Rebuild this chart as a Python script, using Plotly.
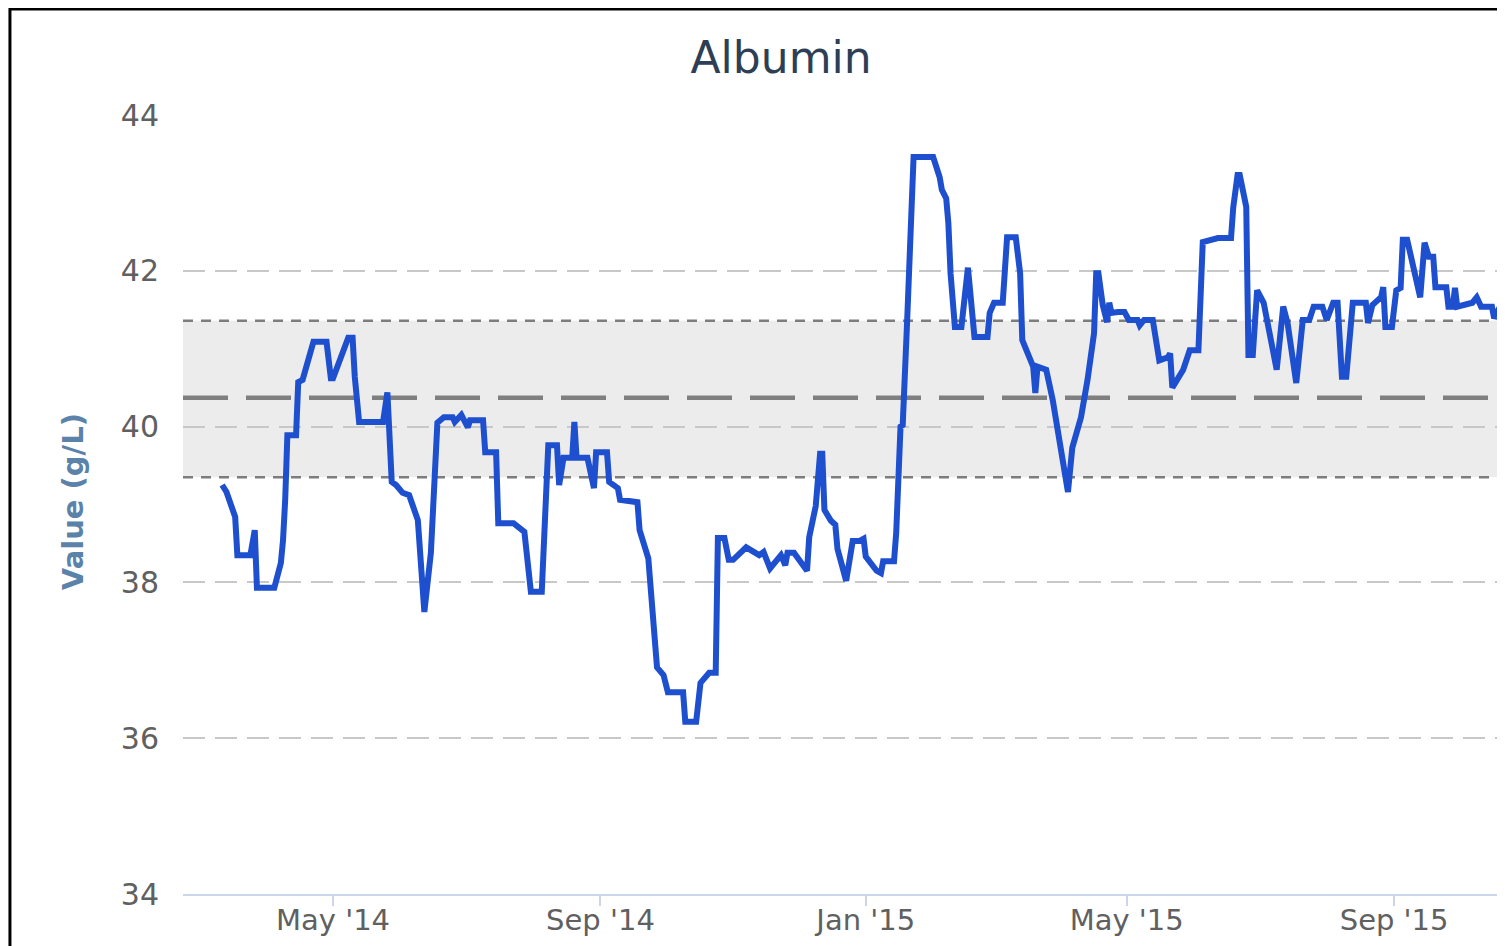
import plotly.graph_objects as go

# ---- data ----
dates = [
    "2014-03-11", "2014-03-13", "2014-03-17", "2014-03-18", "2014-03-24", "2014-03-26",
    "2014-03-27", "2014-04-04", "2014-04-07", "2014-04-08", "2014-04-09", "2014-04-10",
    "2014-04-14", "2014-04-15", "2014-04-17", "2014-04-22", "2014-04-28", "2014-04-30",
    "2014-05-01", "2014-05-08", "2014-05-10", "2014-05-11", "2014-05-13", "2014-05-24",
    "2014-05-26", "2014-05-28", "2014-05-30", "2014-06-02", "2014-06-05", "2014-06-09",
    "2014-06-12", "2014-06-15", "2014-06-18", "2014-06-21", "2014-06-25", "2014-06-26",
    "2014-06-29", "2014-07-02", "2014-07-03", "2014-07-09", "2014-07-10", "2014-07-15",
    "2014-07-16", "2014-07-23", "2014-07-28", "2014-07-31", "2014-08-05", "2014-08-08",
    "2014-08-12", "2014-08-13", "2014-08-15", "2014-08-19", "2014-08-20", "2014-08-21",
    "2014-08-26", "2014-08-29", "2014-08-30", "2014-09-04", "2014-09-05", "2014-09-09",
    "2014-09-10", "2014-09-18", "2014-09-19", "2014-09-23", "2014-09-27", "2014-09-30",
    "2014-10-02", "2014-10-09", "2014-10-10", "2014-10-15", "2014-10-17", "2014-10-21",
    "2014-10-24", "2014-10-25", "2014-10-28", "2014-10-30", "2014-11-01", "2014-11-06",
    "2014-11-07", "2014-11-13", "2014-11-15", "2014-11-18", "2014-11-21", "2014-11-23",
    "2014-11-25", "2014-11-26", "2014-11-29", "2014-12-03", "2014-12-05", "2014-12-06",
    "2014-12-09", "2014-12-11", "2014-12-12", "2014-12-13", "2014-12-16", "2014-12-18",
    "2014-12-19", "2014-12-23", "2014-12-26", "2014-12-29", "2014-12-31", "2015-01-01",
    "2015-01-06", "2015-01-08", "2015-01-09", "2015-01-14", "2015-01-15", "2015-01-17",
    "2015-01-18", "2015-01-20", "2015-01-22", "2015-01-23", "2015-02-01", "2015-02-03",
    "2015-02-04", "2015-02-05", "2015-02-07", "2015-02-08", "2015-02-09", "2015-02-11",
    "2015-02-14", "2015-02-17", "2015-02-20", "2015-02-26", "2015-02-27", "2015-03-01",
    "2015-03-05", "2015-03-07", "2015-03-11", "2015-03-13", "2015-03-14", "2015-03-19",
    "2015-03-20", "2015-03-21", "2015-03-25", "2015-03-28", "2015-04-01", "2015-04-04",
    "2015-04-06", "2015-04-10", "2015-04-13", "2015-04-16", "2015-04-17", "2015-04-18",
    "2015-04-20", "2015-04-22", "2015-04-23", "2015-04-24", "2015-04-27", "2015-04-30",
    "2015-05-02", "2015-05-06", "2015-05-07", "2015-05-09", "2015-05-13", "2015-05-16",
    "2015-05-20", "2015-05-21", "2015-05-22", "2015-05-25", "2015-05-27", "2015-05-30",
    "2015-06-03", "2015-06-05", "2015-06-12", "2015-06-18", "2015-06-19", "2015-06-21",
    "2015-06-22", "2015-06-25", "2015-06-26", "2015-06-28", "2015-06-30", "2015-07-03",
    "2015-07-09", "2015-07-12", "2015-07-14", "2015-07-18", "2015-07-21", "2015-07-24",
    "2015-07-26", "2015-07-30", "2015-08-01", "2015-08-04", "2015-08-06", "2015-08-08",
    "2015-08-10", "2015-08-13", "2015-08-19", "2015-08-20", "2015-08-22", "2015-08-26",
    "2015-08-27", "2015-08-28", "2015-08-31", "2015-09-02", "2015-09-04", "2015-09-05",
    "2015-09-07", "2015-09-13", "2015-09-15", "2015-09-17", "2015-09-19", "2015-09-20",
    "2015-09-25", "2015-09-26", "2015-09-28", "2015-09-29", "2015-09-30", "2015-10-07",
    "2015-10-09", "2015-10-11", "2015-10-16", "2015-10-17", "2015-10-21", "2015-10-23",
]
albumin = [
    39.25, 39.16, 38.84, 38.35, 38.35, 38.67,
    37.93, 37.93, 38.25, 38.54, 39.06, 39.89,
    39.89, 40.57, 40.60, 41.09, 41.09, 40.62,
    40.62, 41.14, 41.14, 40.64, 40.06, 40.06,
    40.44, 39.29, 39.25, 39.15, 39.12, 38.80,
    37.62, 38.38, 40.05, 40.12, 40.12, 40.06,
    40.15, 39.99, 40.08, 40.08, 39.67, 39.67,
    38.76, 38.76, 38.65, 37.88, 37.88, 39.76,
    39.76, 39.25, 39.60, 39.60, 40.06, 39.60,
    39.60, 39.21, 39.67, 39.67, 39.29, 39.21,
    39.06, 39.03, 38.67, 38.31, 36.91, 36.81,
    36.59, 36.59, 36.21, 36.21, 36.71, 36.84,
    36.84, 38.57, 38.57, 38.29, 38.29, 38.44,
    38.45, 38.35, 38.39, 38.18, 38.27, 38.35,
    38.22, 38.38, 38.38, 38.22, 38.15, 38.58,
    38.98, 39.65, 39.65, 38.93, 38.79, 38.74,
    38.43, 38.02, 38.53, 38.53, 38.56, 38.33,
    38.15, 38.12, 38.27, 38.27, 38.63, 40.00,
    40.02, 41.33, 42.84, 43.46, 43.46, 43.32,
    43.20, 43.04, 42.93, 42.61, 41.97, 41.28,
    41.28, 42.04, 41.15, 41.15, 41.46, 41.59,
    41.59, 42.43, 42.43, 41.97, 41.11, 40.77,
    40.43, 40.77, 40.73, 40.34, 39.67, 39.16,
    39.73, 40.12, 40.60, 41.20, 41.97, 41.97,
    41.56, 41.34, 41.59, 41.46, 41.47, 41.47,
    41.37, 41.37, 41.30, 41.37, 41.37, 40.85,
    40.89, 40.94, 40.50, 40.66, 40.73, 40.98,
    40.98, 42.37, 42.42, 42.42, 42.81, 43.23,
    43.23, 42.82, 40.92, 40.92, 41.75, 41.59,
    40.73, 41.54, 41.33, 40.56, 41.37, 41.37,
    41.54, 41.54, 41.37, 41.59, 41.59, 40.64,
    40.64, 41.59, 41.59, 41.33, 41.56, 41.66,
    41.79, 41.28, 41.28, 41.75, 41.78, 42.40,
    42.40, 41.66, 42.36, 42.18, 42.18, 41.79,
    41.79, 41.54, 41.54, 41.78, 41.54, 41.59,
    41.66, 41.54, 41.54, 41.39, 41.59, 41.72,
]

mean_value = 40.37
band_low, band_high = 39.35, 41.36
x_range = ["2014-02-21", "2015-10-22"]
y_range = [34, 44]

FONT = "DejaVu Sans"

fig = go.Figure()

fig.add_trace(go.Scatter(
    x=dates,
    y=albumin,
    mode="lines",
    line=dict(color="#1d4fce", width=6),
    showlegend=False,
    hoverinfo="x+y",
))

# reference band and mean
fig.add_shape(type="rect", xref="paper", yref="y", x0=0, x1=1,
              y0=band_low, y1=band_high, fillcolor="#ececec",
              line=dict(width=0), layer="below")
for yv in (band_low, band_high):
    fig.add_shape(type="line", xref="paper", yref="y", x0=0, x1=1, y0=yv, y1=yv,
                  line=dict(color="#7d7d7d", width=2.5, dash="10px,8px"),
                  layer="between")
fig.add_shape(type="line", xref="paper", yref="y", x0=0, x1=1,
              y0=mean_value, y1=mean_value,
              line=dict(color="#7f7f7f", width=4.5, dash="45px,18px"),
              layer="between")

# black frame of the screenshot (page has an 8px body margin)
fig.add_shape(type="rect", xref="paper", yref="paper",
              x0=-0.1309, x1=1.05, y0=-0.2, y1=1.136,
              line=dict(color="black", width=3), fillcolor="rgba(0,0,0,0)",
              layer="above")

# y axis title
fig.add_annotation(text="<b>Value (g/L)</b>", xref="paper", yref="paper",
                   x=-0.0832, y=0.503, xanchor="center", yanchor="middle",
                   textangle=-90, showarrow=False,
                   font=dict(family=FONT, size=29, color="#5b82a8"))

fig.update_layout(
    width=1497,
    height=938,
    margin=dict(l=175, r=0, t=107, b=52),
    paper_bgcolor="white",
    plot_bgcolor="rgba(0,0,0,0)",
    title=dict(text="Albumin", x=0.5164, y=1 - 50 / 938, xanchor="center",
               yanchor="middle", font=dict(family=FONT, size=44, color="#2e3f55")),
    font=dict(family=FONT, color="#606060"),
    xaxis=dict(
        type="date",
        range=x_range,
        tick0="2014-01-01",
        dtick="M4",
        tickformat="%b '%y",
        showgrid=False,
        zeroline=False,
        showline=True,
        linecolor="#ccd6eb",
        linewidth=2,
        ticks="outside",
        ticklen=10,
        tickwidth=2,
        tickcolor="#ccd6eb",
        ticklabelstandoff=-11,
        tickfont=dict(family=FONT, size=29, color="#606060"),
    ),
    yaxis=dict(
        range=y_range,
        tick0=34,
        dtick=2,
        showgrid=True,
        gridcolor="#c8c8c8",
        gridwidth=2,
        griddash="22px,10px",
        zeroline=False,
        showline=False,
        ticks="",
        ticklabelstandoff=23,
        tickfont=dict(family=FONT, size=30, color="#606060"),
    ),
)

fig.write_html("out.html", config={"displayModeBar": False})
